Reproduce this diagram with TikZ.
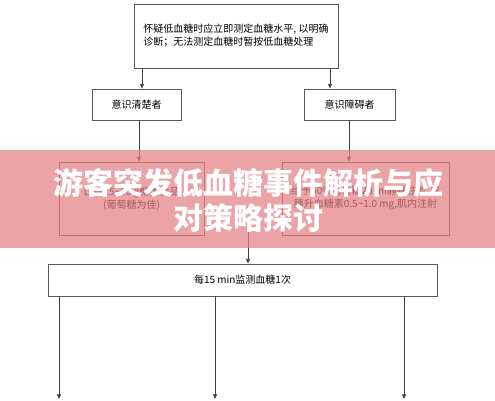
\documentclass[tikz,border=0pt]{standalone}
\usepackage{fontspec}
\setmainfont{Noto Sans CJK SC}
\usepackage{tikz}
\usetikzlibrary{positioning,arrows.meta}
\usepackage{xcolor}
\definecolor{bannerpink}{RGB}{228,128,132}

\begin{document}
\begin{tikzpicture}[x=0.75pt,y=-0.75pt,>={Triangle[length=3.5pt,width=3pt]},
  box/.style={draw=black!65,line width=0.6pt,fill=white,inner sep=2pt,font=\fontsize{7.5}{9.75}\selectfont},
  link/.style={->,draw=black!75,line width=0.55pt}]
\useasboundingbox (0,0) rectangle (495,400);
\node[box,minimum width=153pt,minimum height=48pt,align=left] (check) at (236,36) {怀疑低血糖时应立即测定血糖水平, 以明确\\诊断；无法测定血糖时暂按低血糖处理};
\node[box,minimum width=66.75pt,minimum height=23.25pt] (clear) at (136.5,104.5) {意识清楚者};
\node[box,minimum width=68.25pt,minimum height=23.25pt] (coma) at (349.5,104.5) {意识障碍者};
\node[box,minimum width=108.75pt,minimum height=54.75pt,align=center] (oral) at (131.5,198.5) {口服15\textasciitilde20 g糖类食品\\(葡萄糖为佳)};
\node[box,minimum width=125.25pt,minimum height=54.75pt,align=center] (iv) at (365.5,198.5) {给予50\%葡萄糖20 ml静脉注射,或\\胰升血糖素0.5\textasciitilde1.0 mg,肌内注射};
\node[box,minimum width=291.75pt,minimum height=24pt] (watch) at (242.5,280) {每15 min监测血糖1次};
\coordinate (join) at (248,226);
\coordinate (out1) at (59,399);
\coordinate (out2) at (215,399);
\coordinate (out3) at (404,399);
\draw[link] (check.south -| 142,0) -- (clear.north -| 142,0);
\draw[link] (check.south -| 330,0) -- (coma.north -| 330,0);
\draw[link] (clear.south -| 139,0) -- (oral.north -| 139,0);
\draw[link] (coma.south -| 349,0) -- (iv.north -| 349,0);
\draw[link] (join) -- (watch.north -| join);
\draw[link] (watch.south -| out1) -- (out1);
\draw[link] (watch.south -| out2) -- (out2);
\draw[link] (watch.south -| out3) -- (out3);
% banner over the middle
\fill[bannerpink,opacity=0.72] (0,150) rectangle (495,248);
\node[text=white,align=center,font=\fontsize{22.5}{26.25}\selectfont\bfseries] (title) at (248,200.5) {游客突发低血糖事件解析与应\\对策略探讨};
\end{tikzpicture}
\end{document}
